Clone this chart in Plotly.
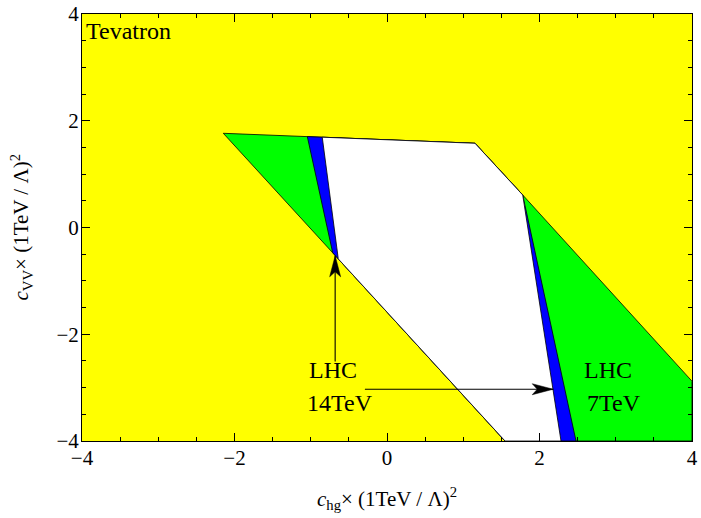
import plotly.graph_objects as go

# ---- data ----
# region excluded by LHC 7TeV (whole outlined polygon)
green_x = [-2.147, 1.154, 1.780, 4.0, 4.0, 1.548, -2.147]
green_y = [1.765, 1.578, 0.609, -2.88, -4.0, -4.0, 1.765]
# region excluded by LHC 14TeV (blue strips + white)
blue_x = [-1.045, 1.154, 1.780, 2.479, 1.548, -0.712, -1.045]
blue_y = [1.703, 1.578, 0.609, -4.0, -4.0, -0.474, 1.703]
# still-allowed region (white)
white_x = [-0.849, 1.154, 1.780, 2.282, 1.548, -0.639, -0.849]
white_y = [1.692, 1.578, 0.609, -4.0, -4.0, -0.588, 1.692]

# arrows: (tail x, tail y, tip x, tip y)
arrow14 = [-0.68, -2.51, -0.68, -0.53]
arrow7 = [-0.29, -3.03, 2.18, -3.03]

x_ticks = [-4, -2, 0, 2, 4]
y_ticks = [-4, -2, 0, 2, 4]

FONT = "Liberation Serif, Times New Roman, serif"

fig = go.Figure()
for xs, ys, col in [(green_x, green_y, "#00FF00"),
                    (blue_x, blue_y, "#0000FF"),
                    (white_x, white_y, "#FFFFFF")]:
    fig.add_trace(go.Scatter(x=xs, y=ys, mode="lines", fill="toself",
                             fillcolor=col, line=dict(color="black", width=0.8),
                             hoverinfo="skip", showlegend=False))

# arrow shafts
for a in (arrow14, arrow7):
    fig.add_trace(go.Scatter(x=[a[0], a[2]], y=[a[1], a[3]], mode="lines",
                             line=dict(color="black", width=1.1),
                             hoverinfo="skip", showlegend=False))

# arrow heads (notched), sized in pixels and converted through axis scale
PX_X = 610 / 8.0
PX_Y = 427 / 8.0
def head_path(a, length=21, half=5.5, notch=5):
    tx, ty = a[2], a[3]
    dxp = (a[2] - a[0]) * PX_X
    dyp = (a[3] - a[1]) * PX_Y
    n = (dxp ** 2 + dyp ** 2) ** 0.5
    ux, uy = dxp / n, dyp / n
    px, py = -uy, ux
    def pt(along, side):
        X = tx + (ux * along + px * side) / PX_X
        Y = ty + (uy * along + py * side) / PX_Y
        return X, Y
    p = [pt(0, 0), pt(-length, half), pt(-length + notch, 0), pt(-length, -half)]
    return "M {} {} L {} {} L {} {} L {} {} Z".format(*[v for q in p for v in q])

for a in (arrow14, arrow7):
    fig.add_shape(type="path", path=head_path(a), xref="x", yref="y",
                  fillcolor="black", line=dict(color="black", width=0.5))

ann_font = dict(family=FONT, size=24, color="black")
fig.add_annotation(x=-3.97, y=3.68, text="Tevatron", showarrow=False,
                   xanchor="left", yanchor="middle", font=ann_font)
fig.add_annotation(x=-1.05, y=-2.67, text="LHC", showarrow=False,
                   xanchor="left", yanchor="middle", font=ann_font)
fig.add_annotation(x=-1.07, y=-3.29, text="14TeV", showarrow=False,
                   xanchor="left", yanchor="middle", font=ann_font)
fig.add_annotation(x=2.56, y=-2.67, text="LHC", showarrow=False,
                   xanchor="left", yanchor="middle", font=ann_font)
fig.add_annotation(x=2.60, y=-3.29, text="7TeV", showarrow=False,
                   xanchor="left", yanchor="middle", font=ann_font)

# axis titles
title_font = dict(family=FONT, size=21, color="black")
fig.add_annotation(xref="paper", yref="paper", x=0.5, y=0, yshift=-57,
                   text="<i>c</i><sub>hg</sub>\u00d7 (1TeV / \u039b)<sup>2</sup>",
                   showarrow=False, xanchor="center", yanchor="middle",
                   font=title_font)
fig.add_annotation(xref="paper", yref="paper", x=0, y=0.5, xshift=-61,
                   text="<i>c</i><sub>VV</sub>\u00d7 (1TeV / \u039b)<sup>2</sup>",
                   showarrow=False, xanchor="center", yanchor="middle",
                   textangle=-90, font=title_font)

axis_common = dict(
    showgrid=False, zeroline=False, showline=True, linecolor="black",
    linewidth=1, mirror="allticks", ticks="inside", ticklen=8,
    tickcolor="black", tickwidth=1, automargin=False,
    tickfont=dict(family=FONT, size=21, color="black"),
    minor=dict(dtick=0.5, ticks="inside", ticklen=4, tickcolor="black"),
)
fig.update_xaxes(range=[-4, 4], tickvals=x_ticks, ticklabelstandoff=-2,
                 ticktext=[("\u2212%d" % -v) if v < 0 else str(v) for v in x_ticks],
                 **axis_common)
fig.update_yaxes(range=[-4, 4], tickvals=y_ticks, ticklabelstandoff=-2,
                 ticktext=[("\u2212%d" % -v) if v < 0 else str(v) for v in y_ticks],
                 **axis_common)

fig.update_layout(width=701, height=518, plot_bgcolor="#FFFF00",
                  paper_bgcolor="white",
                  margin=dict(l=82, r=9, t=14, b=77))
fig.write_html("out.html", config={"displayModeBar": False},
               post_script="document.body.style.margin='0';"
                           "document.body.style.overflow='hidden';")
